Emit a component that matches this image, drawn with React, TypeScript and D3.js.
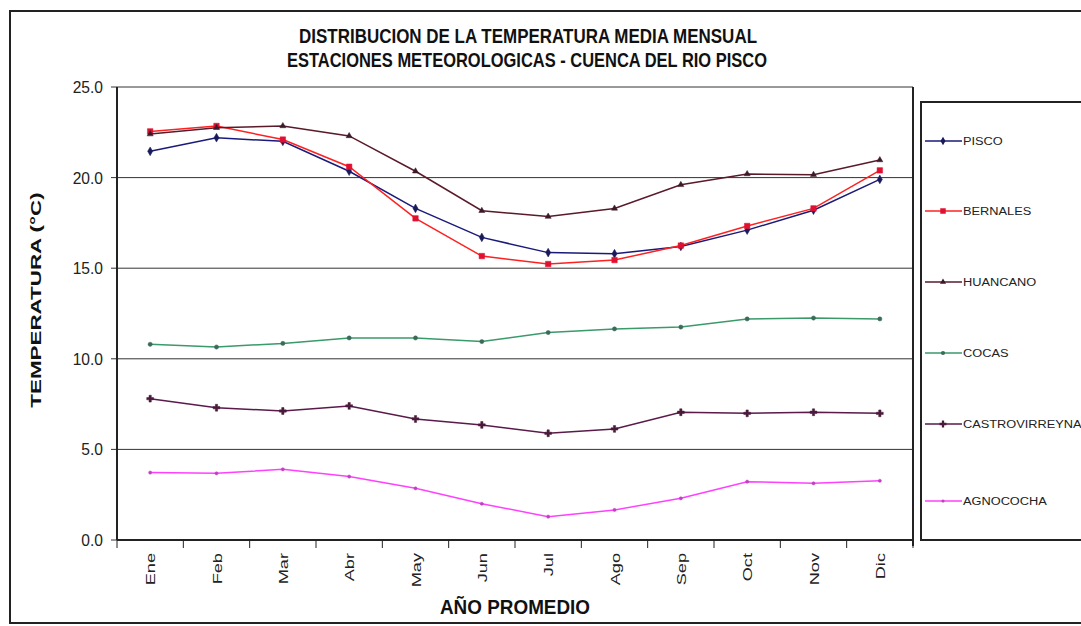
import React from "react";
import * as d3 from "d3";

const months = ["Ene", "Feb", "Mar", "Abr", "May", "Jun", "Jul", "Ago", "Sep", "Oct", "Nov", "Dic"];
const yTicks = [0, 5, 10, 15, 20, 25];

const pisco = [21.45, 22.2, 22.0, 20.35, 18.3, 16.7, 15.86, 15.8, 16.2, 17.1, 18.2, 19.9];
const bernales = [22.55, 22.85, 22.1, 20.6, 17.75, 15.67, 15.23, 15.45, 16.25, 17.33, 18.3, 20.4];
const huancano = [22.4, 22.75, 22.85, 22.3, 20.35, 18.17, 17.85, 18.3, 19.6, 20.2, 20.16, 20.97];
const cocas = [10.8, 10.65, 10.85, 11.15, 11.15, 10.95, 11.45, 11.65, 11.75, 12.2, 12.25, 12.2];
const castrovirreyna = [7.8, 7.3, 7.12, 7.4, 6.68, 6.35, 5.89, 6.13, 7.05, 6.99, 7.05, 6.99];
const agnococha = [3.72, 3.68, 3.9, 3.5, 2.85, 2.0, 1.29, 1.66, 2.3, 3.22, 3.13, 3.27];

const seriesNames = ["PISCO", "BERNALES", "HUANCANO", "COCAS", "CASTROVIRREYNA", "AGNOCOCHA"];
const seriesValues = [pisco, bernales, huancano, cocas, castrovirreyna, agnococha];
const lineColors = ["#1a1a7a", "#ff2020", "#5a1a2a", "#3a9a6a", "#5a1a4a", "#ff40ff"];
const markerColors = ["#1a1a5a", "#e01030", "#3a1a2a", "#3a6a5a", "#4a1a3a", "#c040c0"];
const markerTypes = [d3.symbolDiamond, d3.symbolSquare, d3.symbolTriangle, d3.symbolCircle, d3.symbolCross, d3.symbolCircle];
const markerSizes = [22, 30, 16, 14, 26, 8];

export default function App() {
  const W = 1081, H = 626;
  const left = 117, right = 913, top = 87, bottom = 540;
  const x = d3.scaleBand<string>().domain(months).range([left, right]);
  const y = d3.scaleLinear().domain([0, 25]).range([bottom, top]);
  const cx = (m: string) => (x(m) as number) + x.bandwidth() / 2;
  const line = d3.line<number>().x((_, i) => cx(months[i])).y((v) => y(v));
  const font = "Liberation Sans, Arial, sans-serif";
  const legendY = [141, 211, 282, 353, 424, 501];

  return (
    <svg width={W} height={H} style={{ position: "absolute", left: 0, top: 0, background: "#fff" }} fontFamily={font}>
      <rect x={0} y={0} width={W} height={H} fill="#fff" />
      <rect x={10} y={11} width={1090} height={612} fill="#fff" stroke="#222" strokeWidth={2} />
      <g transform="translate(528,43) scale(1,1.4)">
        <text x={0} y={0} textAnchor="middle" fontSize={15} fontWeight="bold" fill="#111" textLength={458} lengthAdjust="spacingAndGlyphs">DISTRIBUCION DE LA TEMPERATURA MEDIA MENSUAL</text>
      </g>
      <g transform="translate(527,67) scale(1,1.4)">
        <text x={0} y={0} textAnchor="middle" fontSize={15} fontWeight="bold" fill="#111" textLength={480} lengthAdjust="spacingAndGlyphs">ESTACIONES METEOROLOGICAS - CUENCA DEL RIO PISCO</text>
      </g>

      {/* plot area */}
      <rect x={left} y={top} width={right - left} height={bottom - top} fill="#fff" />
      {yTicks.map((t) => (
        <g key={t}>
          <line x1={left - 6} x2={right} y1={y(t)} y2={y(t)} stroke="#333" strokeWidth={1} />
          <g transform={`translate(103,${y(t) + 6}) scale(1.2,1.3)`}>
            <text x={0} y={0} textAnchor="end" fontSize={13} fill="#222">{t.toFixed(1)}</text>
          </g>
        </g>
      ))}
      <line x1={left} x2={left} y1={top} y2={bottom} stroke="#222" strokeWidth={2} />
      <line x1={right} x2={right} y1={top} y2={bottom + 6} stroke="#222" strokeWidth={2} />
      <line x1={left} x2={right} y1={bottom} y2={bottom} stroke="#222" strokeWidth={2} />
      {months.map((m) => (
        <g key={m}>
          <line x1={(x(m) as number) + x.bandwidth()} x2={(x(m) as number) + x.bandwidth()} y1={bottom} y2={bottom + 8} stroke="#222" strokeWidth={1} />
          <g transform={`translate(${cx(m) + 5},${553}) rotate(-90) scale(1.4,1)`}>
            <text x={0} y={0} textAnchor="end" fontSize={13} fill="#222">{m}</text>
          </g>
        </g>
      ))}
      <line x1={left} x2={left} y1={bottom} y2={bottom + 8} stroke="#222" strokeWidth={1} />

      {seriesValues.map((vals, si) => (
        <g key={seriesNames[si]}>
          <path d={line(vals) as string} fill="none" stroke={lineColors[si]} strokeWidth={1.5} />
          {vals.map((v, i) => (
            <path key={i} transform={`translate(${cx(months[i])},${y(v)})`} d={d3.symbol(markerTypes[si], markerSizes[si])() as string} fill={markerColors[si]} stroke={markerColors[si]} strokeWidth={0.5} />
          ))}
        </g>
      ))}

      <g transform="translate(41,300) rotate(-90) scale(1.6,1)">
        <text x={0} y={0} textAnchor="middle" fontSize={14} fontWeight="bold" fill="#111">TEMPERATURA (°C)</text>
      </g>
      <g transform="translate(515,614) scale(1.35,1.4)">
        <text x={0} y={0} textAnchor="middle" fontSize={14} fontWeight="bold" fill="#111">AÑO PROMEDIO</text>
      </g>

      {/* legend */}
      <rect x={921} y={102} width={200} height={438} fill="#fff" stroke="#222" strokeWidth={2} />
      {seriesNames.map((n, si) => (
        <g key={n}>
          <line x1={925} x2={962} y1={legendY[si]} y2={legendY[si]} stroke={lineColors[si]} strokeWidth={1.5} />
          <path transform={`translate(943,${legendY[si]})`} d={d3.symbol(markerTypes[si], markerSizes[si])() as string} fill={markerColors[si]} />
          <g transform={`translate(963,${legendY[si] + 4}) scale(1.28,1)`}>
            <text x={0} y={0} fontSize={10} fill="#222">{n}</text>
          </g>
        </g>
      ))}
    </svg>
  );
}
